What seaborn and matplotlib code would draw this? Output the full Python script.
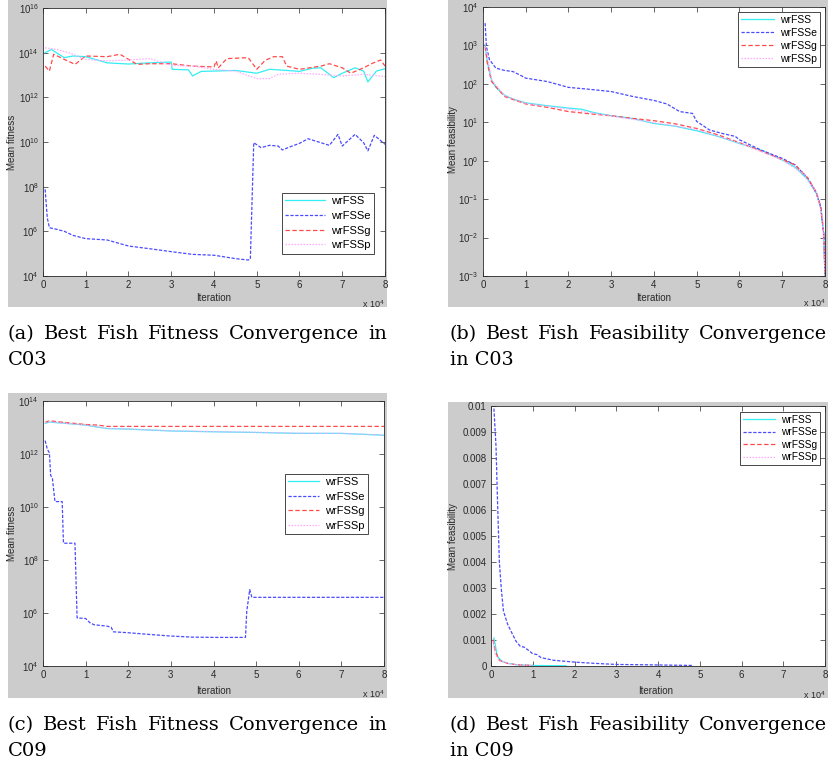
import numpy as np
import pandas as pd
import matplotlib
matplotlib.use("Agg")
import matplotlib.pyplot as plt
import seaborn as sns
from matplotlib.patches import Rectangle
from matplotlib.ticker import FuncFormatter, NullLocator

# ---------------- data ----------------
methods = ["wrFSS", "wrFSSe", "wrFSSg", "wrFSSp"]

# (a) C03 fitness  (x in units of 1e4 iterations)
a_fss_x = [0.05, 0.2, 0.35, 0.5, 0.7, 1.0, 1.5, 2.0, 2.5, 3.0, 3.02, 3.4, 3.5, 3.7, 4.0, 4.5, 5.0, 5.3, 5.6, 6.0, 6.3, 6.5, 6.8, 7.0, 7.3, 7.5, 7.6, 7.8, 8.0]
a_fss_y = [1.0e14, 1.4e14, 8.9e13, 6.0e13, 7.1e13, 6.6e13, 3.5e13, 3.1e13, 3.5e13, 3.8e13, 1.8e13, 1.7e13, 9.1e12, 1.45e13, 1.5e13, 1.6e13, 1.2e13, 1.8e13, 1.65e13, 1.45e13, 2.0e13, 2.1e13, 7.6e12, 1.2e13, 2.1e13, 1.5e13, 4.9e12, 1.5e13, 1.9e13]
a_fsse_x = [0.05, 0.1, 0.15, 0.3, 0.5, 0.7, 1.0, 1.5, 2.0, 2.5, 3.0, 3.5, 4.0, 4.5, 4.8, 4.85, 4.93, 5.1, 5.3, 5.5, 5.6, 5.8, 6.0, 6.2, 6.5, 6.7, 6.9, 7.0, 7.3, 7.5, 7.6, 7.75, 8.0]
a_fsse_y = [7.6e7, 4.0e6, 1.45e6, 1.26e6, 1.0e6, 6.6e5, 4.7e5, 4.1e5, 2.2e5, 1.66e5, 1.23e5, 9.3e4, 8.5e4, 6.0e4, 5.2e4, 5.6e4, 9.3e9, 5.6e9, 7.1e9, 6.6e9, 4.4e9, 6.3e9, 8.7e9, 1.4e10, 9.3e9, 7.1e9, 2.2e10, 6.6e9, 2.2e10, 9.3e9, 4.0e9, 2.0e10, 7.9e9]
a_fssg_x = [0.05, 0.15, 0.25, 0.5, 0.75, 1.0, 1.5, 1.8, 2.2, 2.5, 3.0, 3.5, 4.0, 4.05, 4.1, 4.3, 4.8, 5.0, 5.2, 5.4, 5.6, 5.7, 6.0, 6.5, 6.7, 7.0, 7.2, 7.5, 7.7, 7.9, 8.0]
a_fssg_y = [2.5e13, 1.5e13, 8.5e13, 5.0e13, 3.0e13, 7.1e13, 6.6e13, 8.5e13, 3.0e13, 3.2e13, 3.2e13, 2.5e13, 2.3e13, 4.3e13, 2.1e13, 5.4e13, 6.0e13, 1.8e13, 4.6e13, 6.6e13, 6.6e13, 2.5e13, 1.8e13, 2.5e13, 3.2e13, 2.1e13, 1.2e13, 2.1e13, 3.3e13, 4.7e13, 2.5e13]
a_fssp_x = [0.05, 0.3, 0.6, 1.0, 1.5, 2.0, 2.5, 3.0, 3.5, 4.0, 4.5, 5.0, 5.3, 5.5, 6.0, 6.5, 7.0, 7.5, 8.0]
a_fssp_y = [1.66e14, 1.4e14, 1.0e14, 5.0e13, 4.3e13, 4.7e13, 5.4e13, 2.7e13, 2.5e13, 1.8e13, 1.5e13, 6.9e12, 6.9e12, 1.07e13, 1.2e13, 1.07e13, 9.1e12, 1.07e13, 8.5e12]

# (b) C03 feasibility
b_fss_x = [0.05, 0.1, 0.2, 0.3, 0.5, 0.7, 1.0, 1.5, 2.0, 2.3, 2.6, 3.0, 3.5, 4.0, 4.5, 5.0, 5.5, 6.0, 6.5, 7.0, 7.3, 7.6, 7.8, 7.9, 7.97, 8.0]
b_fss_y = [1050, 380, 126, 81, 51, 40, 32, 27, 23.4, 21.9, 17.8, 14.8, 12.6, 9.3, 7.9, 6.0, 4.3, 2.8, 1.9, 1.05, 0.68, 0.32, 0.14, 0.058, 0.0126, 0.001]
b_fsse_x = [0.05, 0.08, 0.15, 0.3, 0.5, 0.7, 0.9, 1.0, 1.5, 2.0, 2.5, 3.0, 3.5, 4.0, 4.3, 4.6, 4.9, 5.0, 5.3, 5.6, 5.9, 6.0, 6.5, 7.0, 7.3, 7.6, 7.8, 7.9, 7.97, 8.0]
b_fsse_y = [3800, 930, 430, 257, 224, 209, 162, 141, 115, 81, 72, 63, 47, 37, 30, 19, 17, 10.5, 6.3, 5.1, 4.3, 3.5, 1.9, 1.15, 0.78, 0.35, 0.14, 0.063, 0.0126, 0.001]
b_fssg_x = [0.05, 0.1, 0.2, 0.5, 1.0, 1.5, 2.0, 2.5, 3.0, 3.5, 4.0, 4.5, 5.0, 5.5, 6.0, 6.5, 7.0, 7.3, 7.6, 7.8, 7.9, 7.97, 8.0]
b_fssg_y = [930, 350, 115, 47, 30, 24.5, 19, 16.6, 14.8, 12.6, 11, 9.1, 6.9, 4.7, 2.95, 1.8, 1.07, 0.78, 0.35, 0.15, 0.063, 0.0126, 0.001]
b_fssp_x = [0.05, 0.2, 0.5, 1.0, 2.0, 3.0, 4.0, 5.0, 6.0, 7.0, 7.5, 7.8, 7.95, 8.0]
b_fssp_y = [1100, 130, 50, 31, 22, 14.5, 9.8, 6.5, 2.9, 1.05, 0.45, 0.15, 0.03, 0.001]

# (c) C09 fitness
c_fss_x = [0.05, 0.15, 0.5, 1.0, 1.5, 2.0, 3.0, 4.0, 5.0, 6.0, 7.0, 8.0]
c_fss_y = [1.45e13, 1.6e13, 1.45e13, 1.23e13, 9.1e12, 8.7e12, 7.4e12, 6.9e12, 6.5e12, 6.0e12, 6.0e12, 5.1e12]
c_fsse_x = [0.05, 0.1, 0.15, 0.18, 0.22, 0.28, 0.45, 0.48, 0.75, 0.8, 1.0, 1.1, 1.2, 1.5, 1.6, 1.65, 2.0, 2.5, 3.0, 3.5, 4.0, 4.75, 4.78, 4.85, 4.9, 8.0]
c_fsse_y = [3.2e12, 1.55e12, 1.1e12, 1.55e11, 1.23e11, 1.6e10, 1.6e10, 4.3e8, 4.3e8, 6.5e5, 6.2e5, 4.3e5, 3.6e5, 3.2e5, 2.9e5, 1.95e5, 1.8e5, 1.55e5, 1.35e5, 1.23e5, 1.2e5, 1.2e5, 1.15e6, 7.6e6, 3.9e6, 3.9e6]
c_fssg_x = [0.05, 0.15, 0.5, 1.0, 1.3, 1.5, 3.0, 5.0, 8.0]
c_fssg_y = [1.55e13, 1.8e13, 1.55e13, 1.3e13, 1.23e13, 1.1e13, 1.1e13, 1.1e13, 1.1e13]
c_fssp_x = [0.05, 0.15, 0.5, 1.0, 1.5, 2.0, 3.0, 4.0, 5.0, 6.0, 7.0, 8.0]
c_fssp_y = [1.5e13, 1.65e13, 1.45e13, 1.25e13, 9.3e12, 8.8e12, 7.5e12, 7.0e12, 6.6e12, 6.1e12, 6.0e12, 5.2e12]

# (d) C09 feasibility
d_fss_x = [0.07, 0.1, 0.15, 0.25, 0.4, 0.6, 1.0, 1.8]
d_fss_y = [0.00108, 0.00083, 0.00038, 0.00019, 0.0001, 0.00005, 0.00002, 0.00001]
d_fsse_x = [0.07, 0.12, 0.15, 0.2, 0.25, 0.3, 0.4, 0.5, 0.6, 0.7, 0.8, 0.9, 1.0, 1.1, 1.2, 1.5, 2.0, 2.5, 3.0, 4.0, 4.85]
d_fsse_y = [0.0099, 0.00845, 0.0067, 0.0040, 0.0029, 0.0021, 0.0016, 0.00127, 0.00095, 0.00076, 0.00072, 0.0006, 0.00047, 0.00044, 0.00032, 0.00022, 0.00015, 0.0001, 0.00006, 0.00004, 0.00002]
d_fssg_x = [0.05, 0.1, 0.2, 0.4, 0.6, 1.0]
d_fssg_y = [0.00102, 0.00057, 0.00022, 0.0001, 0.00005, 0.00002]
d_fssp_x = [0.05, 0.1, 0.2, 0.5, 1.0]
d_fssp_y = [0.00095, 0.00045, 0.0002, 0.00006, 0.00002]

x_ticks = [0, 1, 2, 3, 4, 5, 6, 7, 8]
captions = {
    "a": ["(a) Best Fish Fitness Convergence in", "C03"],
    "b": ["(b) Best Fish Feasibility Convergence", "in C03"],
    "c": ["(c) Best Fish Fitness Convergence in", "C09"],
    "d": ["(d) Best Fish Feasibility Convergence", "in C09"],
}

# ---------------- style ----------------
plt.rcParams["font.family"] = ["Liberation Sans", "DejaVu Sans"]
plt.rcParams["mathtext.fontset"] = "custom"
plt.rcParams["mathtext.rm"] = "Liberation Sans"
plt.rcParams["mathtext.it"] = "Liberation Sans:italic"

palette = {"wrFSS": "#33eef2", "wrFSSe": "#4a4aff", "wrFSSg": "#ff4a4a", "wrFSSp": "#ffa8ff"}
dashes = {"wrFSS": "", "wrFSSe": (2.6, 1.3), "wrFSSg": (3.5, 2.0), "wrFSSp": (1.2, 1.2)}

W, H = 829, 764
fig = plt.figure(figsize=(W / 100, H / 100), dpi=100)
fig.patch.set_facecolor("white")


def fx(x):
    return x / W


def fy(y):
    return 1 - y / H


def long_df(series):
    rows = []
    for name, xs, ys in series:
        for x, y in zip(xs, ys):
            rows.append({"Iteration": x * 1e4, "value": y, "method": name})
    return pd.DataFrame(rows)


panels = {
    "a": dict(ax=(43, 385, 8, 276), bg=(8, 387, 0, 307), log=True, ylim=(1e4, 1e16),
              yt=[1e4, 1e6, 1e8, 1e10, 1e12, 1e14, 1e16], ylabel="Mean fitness", ylab=(12, 142),
              xlab=(214, 298), xexp=(362, 304), leg=(282, 193), legfs=8, legls=0.42, hl=3.6,
              series=[("wrFSS", a_fss_x, a_fss_y), ("wrFSSe", a_fsse_x, a_fsse_y),
                      ("wrFSSg", a_fssg_x, a_fssg_y), ("wrFSSp", a_fssp_x, a_fssp_y)],
              cap=(8, 387, 339)),
    "b": dict(ax=(483, 825, 7, 276), bg=(448, 829, 0, 307), log=True, ylim=(1e-3, 1e4),
              yt=[1e-3, 1e-2, 1e-1, 1e0, 1e1, 1e2, 1e3, 1e4], ylabel="Mean feasibility", ylab=(453, 140),
              xlab=(654, 298), xexp=(803, 303), leg=(738, 12), legfs=7.5, legls=0.27, hl=3.2,
              series=[("wrFSS", b_fss_x, b_fss_y), ("wrFSSe", b_fsse_x, b_fsse_y),
                      ("wrFSSg", b_fssg_x, b_fssg_y), ("wrFSSp", b_fssp_x, b_fssp_y)],
              cap=(450, 827, 339)),
    "c": dict(ax=(43, 384, 401, 666), bg=(8, 387, 393, 698), log=True, ylim=(1e4, 1e14),
              yt=[1e4, 1e6, 1e8, 1e10, 1e12, 1e14], ylabel="Mean fitness", ylab=(12, 533),
              xlab=(214, 691), xexp=(362, 694), leg=(285, 474), legfs=8, legls=0.4, hl=2.8,
              series=[("wrFSS", c_fss_x, c_fss_y), ("wrFSSe", c_fsse_x, c_fsse_y),
                      ("wrFSSg", c_fssg_x, c_fssg_y), ("wrFSSp", c_fssp_x, c_fssp_y)],
              cap=(8, 387, 730)),
    "d": dict(ax=(491, 825, 406, 666), bg=(448, 829, 402, 698), log=False, ylim=(0, 0.01),
              yt=[i * 0.001 for i in range(11)], ylabel="Mean feasibility", ylab=(453, 537),
              xlab=(656, 691), xexp=(803, 695), leg=(740, 412), legfs=7.3, legls=0.24, hl=3.2,
              series=[("wrFSS", d_fss_x, d_fss_y), ("wrFSSe", d_fsse_x, d_fsse_y),
                      ("wrFSSg", d_fssg_x, d_fssg_y), ("wrFSSp", d_fssp_x, d_fssp_y)],
              cap=(450, 827, 730)),
}

TICK_FS = 7
AX_COLOR = "#2a2a2a"

for key, p in panels.items():
    bx0, bx1, by0, by1 = p["bg"]
    fig.patches.append(Rectangle((fx(bx0), fy(by1)), (bx1 - bx0) / W, (by1 - by0) / H,
                                 transform=fig.transFigure, facecolor="#cccccc",
                                 edgecolor="none", zorder=-5))
    l, r, t, b = p["ax"]
    ax = fig.add_axes([fx(l), fy(b), (r - l) / W, (b - t) / H])
    ax.set_facecolor("white")
    df = long_df(p["series"])
    sns.lineplot(data=df, x="Iteration", y="value", hue="method", style="method",
                 hue_order=methods, style_order=methods, palette=palette, dashes=dashes,
                 estimator=None, sort=False, linewidth=0.9, ax=ax)
    if p["log"]:
        ax.set_yscale("log")
    ax.set_ylim(*p["ylim"])
    ax.set_xlim(0, 8e4)
    ax.set_yticks(p["yt"])
    ax.yaxis.set_minor_locator(NullLocator())
    if not p["log"]:
        ax.yaxis.set_major_formatter(FuncFormatter(lambda v, pos: "0" if abs(v) < 1e-12 else f"{v:.3f}".rstrip("0")))
    ax.set_xticks([v * 1e4 for v in x_ticks])
    ax.xaxis.set_major_formatter(FuncFormatter(lambda v, pos: f"{v / 1e4:g}"))
    ax.tick_params(direction="in", top=True, right=True, length=3.5, width=0.5,
                   labelsize=TICK_FS, colors=AX_COLOR, pad=3)
    for s in ax.spines.values():
        s.set_color(AX_COLOR)
        s.set_linewidth(0.6)
    ax.set_xlabel("Iteration", fontsize=7, color=AX_COLOR)
    ax.set_ylabel(p["ylabel"], fontsize=7, color=AX_COLOR)
    ax.xaxis.set_label_coords(fx(p["xlab"][0]), fy(p["xlab"][1]), transform=fig.transFigure)
    ax.xaxis.label.set_va("center")
    ax.yaxis.set_label_coords(fx(p["ylab"][0]), fy(p["ylab"][1]), transform=fig.transFigure)
    ax.yaxis.label.set_va("center")
    fig.text(fx(p["xexp"][0]), fy(p["xexp"][1]), r"x 10$^{4}$", fontsize=6.5,
             color=AX_COLOR, ha="left", va="center")
    lx, ly = p["leg"]
    sns.move_legend(ax, "upper left", bbox_to_anchor=(fx(lx), fy(ly)),
                    bbox_transform=fig.transFigure, title=None, frameon=True,
                    fancybox=False, fontsize=p["legfs"], borderaxespad=0,
                    borderpad=0.3, labelspacing=p["legls"], handlelength=p["hl"],
                    handletextpad=0.5, framealpha=1)
    leg = ax.get_legend()
    leg.get_frame().set_edgecolor(AX_COLOR)
    leg.get_frame().set_linewidth(0.6)
    for h in leg.get_lines():
        h.set_linewidth(0.9)

# ---------------- captions (justified first line) ----------------
CAP_FAMILY = ["DejaVu Serif"]
fig.canvas.draw()
renderer = fig.canvas.get_renderer()
for key, p in panels.items():
    x0, x1, yb = p["cap"]
    line1, line2 = captions[key]
    words = line1.split()
    fs = 15.0
    while True:
        objs = [fig.text(0, fy(yb), w, family=CAP_FAMILY, fontsize=fs, va="baseline", ha="left")
                for w in words]
        widths = [o.get_window_extent(renderer).width for o in objs]
        gap = (x1 - x0 - sum(widths)) / (len(words) - 1)
        if gap >= 9 or fs < 9:
            break
        for o in objs:
            o.remove()
        fs -= 0.25
    cur = x0
    for o, wd in zip(objs, widths):
        o.set_x(fx(cur))
        cur += wd + gap
    fig.text(fx(x0), fy(yb + 26), line2, family=CAP_FAMILY, fontsize=fs,
             va="baseline", ha="left")

fig.savefig("out.png", dpi=100, facecolor="white")
